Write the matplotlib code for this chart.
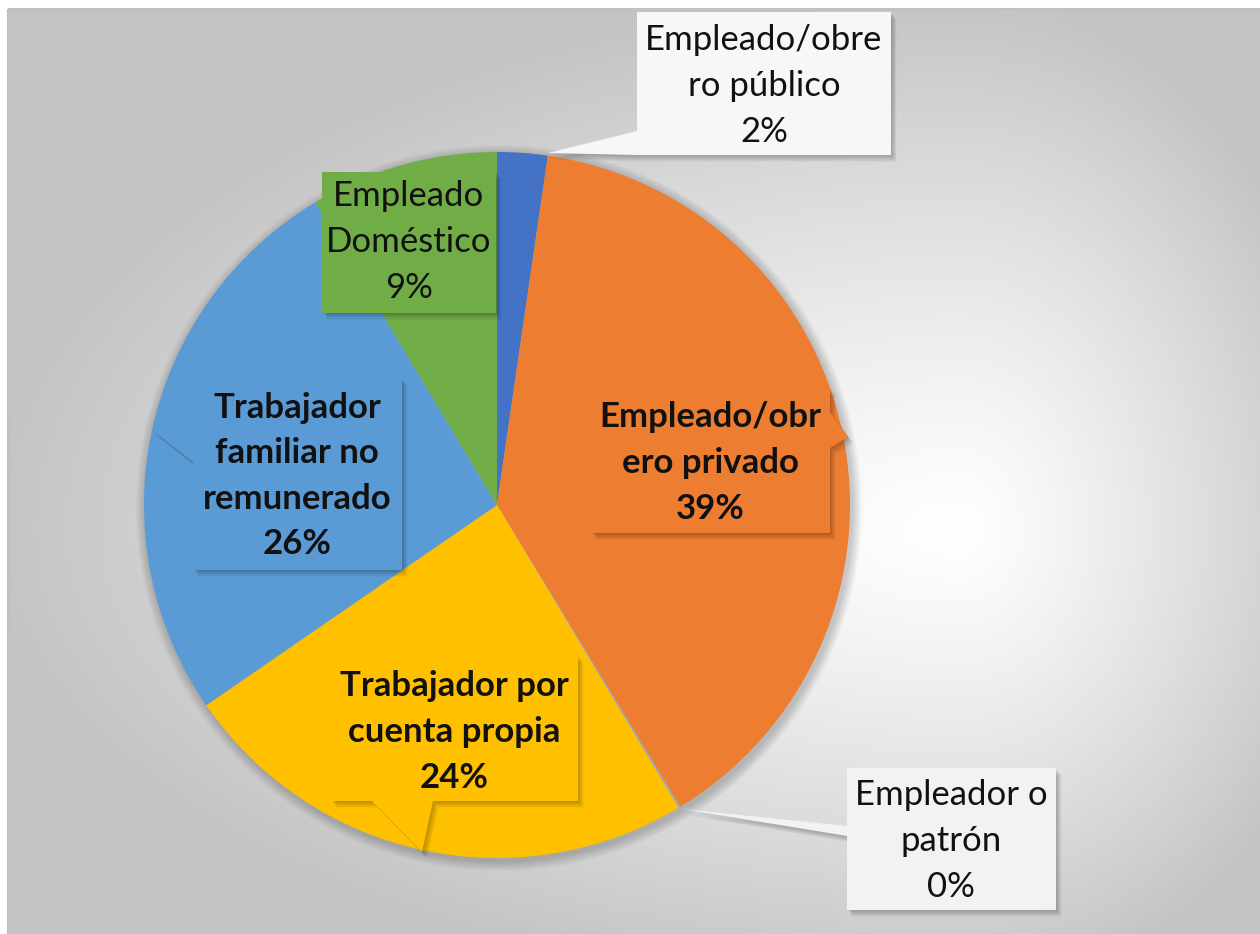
import numpy as np
import matplotlib.pyplot as plt
from matplotlib.patches import Polygon, Circle, Rectangle

# data (clockwise from 12 o'clock)
categories = ["Empleado/obre\nro público", "Empleado/obr\nero privado", "Empleador o\npatrón",
              "Trabajador por\ncuenta propia", "Trabajador\nfamiliar no\nremunerado", "Empleado\nDoméstico"]
values = [2.3, 39.0, 0.1, 24.0, 26.0, 8.6]
colors = ["#4472C4", "#ED7D31", "#A5A5A5", "#FFC000", "#5B9BD5", "#70AD47"]
bold = [False, True, False, True, True, False]

W, H = 1260, 934
fig = plt.figure(figsize=(12.6, 9.34), dpi=100)
ax = fig.add_axes([0, 0, 1, 1])

# background: soft radial gradient, white on the right, gray at the corners
x0, y0 = 8, 9
yy, xx = np.mgrid[y0:H, x0:W]
cx, cy = 960, 530
dx = xx - cx
dy = yy - cy
sx = np.where(dx < 0, 980, 400)
sy = np.where(dy < 0, 540, 470)
t = np.clip(np.sqrt((dx / sx) ** 2 + (dy / sy) ** 2), 0, 1)
g = 1 - 0.235 * t ** 1.2
img = np.dstack([g, g, g])
ax.imshow(img, extent=(x0, W, H, y0), origin="upper", interpolation="bilinear", zorder=0)
ax.add_patch(Rectangle((x0, y0), W - x0 + 5, H - y0 + 5, fill=False, ec="#c0c0c0", lw=1.5, zorder=1))

# pie
pc = (497, 505)
pr = 353
for k in range(10):
    ax.add_patch(Circle((pc[0] + 2, pc[1] + 3), pr + 10 - k, color="black", alpha=0.018, lw=0, zorder=1))
total = sum(values)
wedges, _ = ax.pie(values, colors=colors, startangle=-90, counterclock=True,
                   center=pc, radius=pr, wedgeprops=dict(linewidth=0), frame=True)
for w in wedges:
    w.set_zorder(2)

# callout boxes (pixel coords): box + pointer outline
boxes = [
    [(637, 12), (891, 12), (891, 155), (637, 155), (548, 153), (637, 131)],
    [(591, 388), (830, 388), (830, 412), (848, 437), (830, 448), (830, 533), (591, 533)],
    [(847, 768), (1056, 768), (1056, 910), (847, 910), (847, 836), (682, 809), (847, 826)],
    [(331, 655), (578, 655), (578, 801), (433, 801), (422, 852), (372, 801), (331, 801)],
    [(193, 378), (402, 378), (402, 570), (193, 570), (193, 462), (152, 430), (193, 440)],
    [(322, 172), (496, 172), (496, 313), (322, 313)],
]
box_fill = ["#f7f7f7", colors[1], "#f2f2f2", colors[3], colors[4], colors[5]]
centers = [(764, 86), (710, 463), (951, 841), (454, 732), (297, 476), (409, 242)]

for i, pts in enumerate(boxes):
    for k in range(1, 7):
        sh = [(px + k * 0.9, py + k * 1.1) for px, py in pts]
        ax.add_patch(Polygon(sh, closed=True, color="black", alpha=0.045, lw=0, zorder=3))
    ax.add_patch(Polygon(pts, closed=True, fc=box_fill[i], ec="none", zorder=4))
    pct = f"{values[i] / total * 100:.0f}%"
    ax.text(centers[i][0], centers[i][1], categories[i] + "\n" + pct,
            ha="center", va="center", fontsize=25, family="Lato", linespacing=1.52,
            fontweight="bold" if bold[i] else "normal", color="#111111", zorder=5)

ax.set_xlim(0, W)
ax.set_ylim(H, 0)
ax.set_aspect("auto")
ax.axis("off")
fig.savefig("out.png", dpi=100, facecolor="white")
